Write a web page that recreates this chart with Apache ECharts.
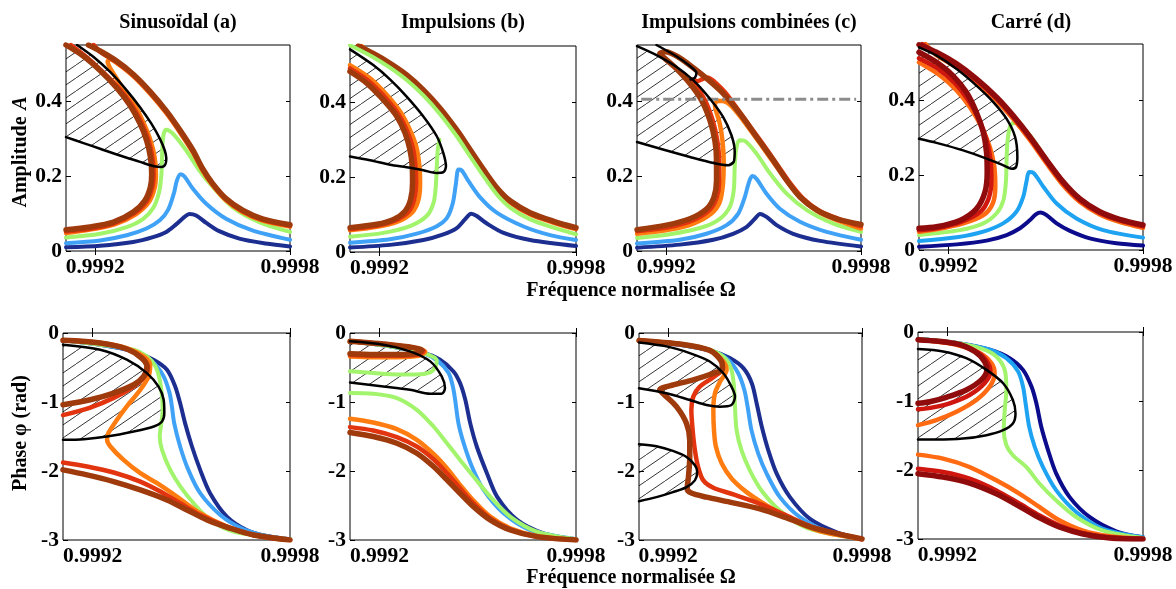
<!DOCTYPE html>
<html><head><meta charset="utf-8">
<script src="https://cdn.jsdelivr.net/npm/echarts@6/dist/echarts.min.js"></script>
<style>html,body{margin:0;padding:0;background:#fff}#c{width:1176px;height:589px}</style>
</head><body><div id="c"></div>
<script>
// ---------- axes / labels ----------
const xTicks=[0.9992,0.9998];
const ampTicks=[0,0.2,0.4];
const phaseTicks=[-3,-2,-1,0];
const xMin=0.99911, xMax=0.9998, ampMax=0.55, phaseMin=-3, phaseMax=0;
const titles=['Sinusoïdal (a)','Impulsions (b)','Impulsions combinées (c)','Carré (d)'];
const xName='Fréquence normalisée Ω';

// ---------- amplitude, panel (a) ----------
const ampA_navy=[[0.99911,0.01],[0.999215,0.014],[0.999317,0.024],[0.999378,0.037],[0.999419,0.051],[0.999449,0.071],[0.999475,0.091],[0.99949,0.099],[0.999511,0.095],[0.999542,0.075],[0.999582,0.053],[0.999644,0.033],[0.999725,0.02],[0.9998,0.012]];
const ampA_sky=[[0.99911,0.021],[0.999215,0.028],[0.999297,0.042],[0.999358,0.06],[0.999399,0.082],[0.999424,0.109],[0.999442,0.153],[0.999452,0.189],[0.999463,0.205],[0.999475,0.199],[0.999501,0.166],[0.999542,0.126],[0.999603,0.086],[0.999684,0.055],[0.9998,0.03]];
const ampA_lime=[[0.99911,0.036],[0.999215,0.046],[0.999297,0.064],[0.999348,0.086],[0.99938,0.117],[0.999397,0.158],[0.999404,0.206],[0.999407,0.278],[0.999411,0.313],[0.999419,0.324],[0.99944,0.313],[0.99948,0.269],[0.999521,0.215],[0.999562,0.171],[0.999623,0.117],[0.999705,0.077],[0.9998,0.051]];
const ampA_orange=[[0.99911,0.048],[0.999184,0.057],[0.99926,0.071],[0.999325,0.098],[0.999365,0.13],[0.999383,0.168],[0.999387,0.206],[0.999383,0.251],[0.99937,0.296],[0.99935,0.34],[0.999325,0.385],[0.999295,0.42],[0.999265,0.462],[0.999245,0.49],[0.999238,0.505],[0.999246,0.512],[0.999266,0.502],[0.999317,0.467],[0.999368,0.421],[0.999419,0.368],[0.99946,0.318],[0.999501,0.263],[0.999531,0.214],[0.999562,0.175],[0.999603,0.135],[0.999654,0.104],[0.999715,0.081],[0.9998,0.065]];
const ampA_redC=[[0.999125,0.55],[0.99917,0.52],[0.99922,0.481],[0.999272,0.436],[0.999313,0.389],[0.999344,0.34],[0.999364,0.296],[0.999376,0.251],[0.99938,0.206],[0.999376,0.17],[0.999359,0.133],[0.999321,0.101],[0.999258,0.074],[0.999184,0.059],[0.99911,0.052]];
const ampA_redUp=[[0.999195,0.55],[0.999215,0.532],[0.999266,0.504],[0.999317,0.469],[0.999368,0.424],[0.999419,0.371],[0.99946,0.321],[0.999501,0.266],[0.999531,0.217],[0.999562,0.177],[0.999603,0.137],[0.999654,0.106],[0.999715,0.083],[0.9998,0.067]];
const ampA_brownC=[[0.99911,0.55],[0.999164,0.52],[0.999215,0.482],[0.999266,0.436],[0.999307,0.389],[0.999338,0.34],[0.999358,0.296],[0.99937,0.251],[0.999374,0.206],[0.99937,0.171],[0.999353,0.135],[0.999317,0.104],[0.999256,0.077],[0.999184,0.064],[0.99911,0.057]];
const ampA_brownUp=[[0.999179,0.55],[0.999215,0.534],[0.999266,0.507],[0.999317,0.472],[0.999368,0.427],[0.999419,0.374],[0.99946,0.324],[0.999501,0.269],[0.999531,0.22],[0.999562,0.18],[0.999603,0.14],[0.999654,0.109],[0.999715,0.086],[0.9998,0.07]];
const ampA_black=[[0.999144,0.55],[0.999195,0.518],[0.999246,0.478],[0.999297,0.429],[0.999338,0.384],[0.999373,0.34],[0.999399,0.3],[0.999414,0.269],[0.999419,0.247],[0.999416,0.231],[0.999404,0.224],[0.999378,0.227],[0.999338,0.238],[0.999276,0.255],[0.999215,0.273],[0.999164,0.288],[0.99911,0.304]];

// ---------- amplitude, panel (b) ----------
const ampB_navy=[[0.99911,0.012],[0.999232,0.019],[0.999334,0.032],[0.999395,0.047],[0.999436,0.064],[0.999461,0.087],[0.99948,0.102],[0.999497,0.096],[0.999528,0.076],[0.999579,0.051],[0.99966,0.032],[0.9998,0.016]];
const ampB_sky=[[0.99911,0.025],[0.999232,0.034],[0.999314,0.049],[0.999375,0.069],[0.999406,0.091],[0.999424,0.131],[0.999433,0.18],[0.999441,0.22],[0.999451,0.218],[0.999472,0.189],[0.999508,0.145],[0.999558,0.105],[0.99964,0.068],[0.999721,0.045],[0.9998,0.032]];
const ampB_limeC=[[0.99911,0.041],[0.999212,0.051],[0.999293,0.069],[0.999344,0.096],[0.999365,0.131],[0.999372,0.176],[0.999375,0.229],[0.999378,0.273],[0.999383,0.3]];
const ampB_limeUp=[[0.99911,0.552],[0.999181,0.52],[0.999232,0.492],[0.999283,0.459],[0.999334,0.418],[0.999385,0.368],[0.999436,0.309],[0.999477,0.255],[0.999518,0.202],[0.999559,0.153],[0.9996,0.118],[0.99966,0.087],[0.999732,0.065],[0.9998,0.047]];
const ampB_orangeC=[[0.99911,0.499],[0.999171,0.464],[0.999222,0.42],[0.999263,0.375],[0.999293,0.326],[0.999312,0.282],[0.999322,0.229],[0.999324,0.185],[0.999319,0.14],[0.999299,0.105],[0.999253,0.08],[0.999192,0.067],[0.99911,0.058]];
const ampB_redC=[[0.99911,0.49],[0.999166,0.457],[0.999217,0.413],[0.999258,0.368],[0.999285,0.322],[0.999302,0.278],[0.99931,0.229],[0.999312,0.185],[0.999306,0.14],[0.999288,0.107],[0.999248,0.084],[0.999192,0.07],[0.99911,0.061]];
const ampB_brownC=[[0.99911,0.482],[0.999161,0.451],[0.999212,0.406],[0.999253,0.362],[0.999278,0.318],[0.999293,0.273],[0.9993,0.229],[0.999301,0.185],[0.999295,0.14],[0.999278,0.109],[0.999243,0.087],[0.999192,0.074],[0.99911,0.065]];
const ampB_orangeUp=[[0.999145,0.55],[0.999181,0.527],[0.999232,0.5],[0.999283,0.468],[0.999334,0.428],[0.999385,0.379],[0.999436,0.321],[0.999477,0.268],[0.999518,0.215],[0.999559,0.166],[0.9996,0.131],[0.99966,0.1],[0.999732,0.078],[0.9998,0.061]];
const ampB_redUp=[[0.99914,0.55],[0.999181,0.528],[0.999232,0.502],[0.999283,0.47],[0.999334,0.43],[0.999385,0.381],[0.999436,0.323],[0.999477,0.27],[0.999518,0.217],[0.999559,0.168],[0.9996,0.133],[0.99966,0.102],[0.999732,0.08],[0.9998,0.063]];
const ampB_brownUp=[[0.999135,0.55],[0.999181,0.53],[0.999232,0.504],[0.999283,0.473],[0.999334,0.433],[0.999385,0.384],[0.999436,0.326],[0.999477,0.273],[0.999518,0.22],[0.999559,0.171],[0.9996,0.136],[0.99966,0.105],[0.999732,0.082],[0.9998,0.065]];
const ampB_black=[[0.99911,0.541],[0.999181,0.499],[0.999232,0.461],[0.999283,0.415],[0.999334,0.362],[0.999375,0.309],[0.999395,0.264],[0.999403,0.229],[0.999395,0.213],[0.999375,0.211],[0.999334,0.218],[0.999283,0.226],[0.999232,0.233],[0.999171,0.245],[0.99911,0.255]];

// ---------- amplitude, panel (c) ----------
const ampC_navy=[[0.99911,0.009],[0.999242,0.017],[0.999345,0.03],[0.999406,0.046],[0.999447,0.064],[0.999473,0.086],[0.999489,0.099],[0.999509,0.091],[0.99954,0.069],[0.999591,0.046],[0.999674,0.027],[0.9998,0.012]];
const ampC_sky=[[0.99911,0.02],[0.999242,0.03],[0.999324,0.046],[0.999386,0.069],[0.999422,0.1],[0.999442,0.144],[0.999455,0.184],[0.999465,0.2],[0.999478,0.193],[0.999509,0.153],[0.99955,0.113],[0.999612,0.078],[0.999694,0.051],[0.9998,0.03]];
const ampC_lime=[[0.99911,0.035],[0.999221,0.046],[0.999314,0.064],[0.999365,0.086],[0.999396,0.118],[0.999408,0.162],[0.999411,0.225],[0.999415,0.269],[0.999425,0.296],[0.999442,0.294],[0.999478,0.26],[0.99952,0.207],[0.999571,0.153],[0.999633,0.109],[0.999715,0.073],[0.9998,0.051]];
const ampC_orange=[[0.99911,0.046],[0.999211,0.057],[0.999283,0.073],[0.999339,0.1],[0.999365,0.131],[0.999375,0.18],[0.999377,0.242],[0.999373,0.296],[0.999365,0.34],[0.999353,0.376],[0.99935,0.392],[0.99936,0.401],[0.999377,0.4],[0.999401,0.387],[0.999437,0.349],[0.999489,0.287],[0.99954,0.225],[0.999581,0.176],[0.999622,0.135],[0.999674,0.102],[0.999736,0.079],[0.9998,0.06]];
const ampC_red=[[0.99911,0.053],[0.999211,0.064],[0.999283,0.082],[0.999334,0.11],[0.999355,0.14],[0.999363,0.184],[0.999363,0.242],[0.999357,0.296],[0.999343,0.349],[0.999319,0.403],[0.999288,0.443],[0.999267,0.454],[0.999283,0.458],[0.999295,0.453],[0.999309,0.458],[0.999322,0.463],[0.999336,0.46],[0.999355,0.447],[0.999386,0.419],[0.999437,0.358],[0.999489,0.296],[0.99954,0.233],[0.999581,0.182],[0.999622,0.14],[0.999674,0.106],[0.999736,0.084],[0.9998,0.066]];
const ampC_brown=[[0.99911,0.057],[0.999201,0.069],[0.999273,0.086],[0.999325,0.113],[0.999347,0.144],[0.999355,0.189],[0.999355,0.241],[0.99935,0.294],[0.999335,0.348],[0.999309,0.402],[0.999273,0.447],[0.999231,0.487],[0.999195,0.515],[0.99918,0.527],[0.999198,0.532],[0.999237,0.518],[0.999273,0.496],[0.999324,0.461],[0.999375,0.421],[0.999427,0.367],[0.999478,0.305],[0.99953,0.242],[0.999571,0.189],[0.999612,0.144],[0.999664,0.109],[0.999725,0.086],[0.9998,0.071]];
const ampC_black=[[0.99911,0.547],[0.99917,0.523],[0.999231,0.492],[0.999283,0.456],[0.999334,0.407],[0.999375,0.358],[0.999401,0.309],[0.999411,0.265],[0.999408,0.238],[0.999391,0.229],[0.999345,0.235],[0.999273,0.251],[0.99919,0.271],[0.99911,0.291]];
const ampC_tongue=[[0.99917,0.55],[0.999231,0.52],[0.999273,0.494],[0.999293,0.475],[0.999288,0.462],[0.999275,0.458]];
const ampC_threshold=[[0.999123,0.405],[0.999785,0.405]];

// ---------- amplitude, panel (d) ----------
const ampD_navy=[[0.99911,0.009],[0.999226,0.015],[0.999318,0.025],[0.99938,0.04],[0.999421,0.058],[0.999452,0.08],[0.99947,0.095],[0.999484,0.1],[0.999503,0.093],[0.999534,0.071],[0.999575,0.051],[0.999636,0.031],[0.999718,0.018],[0.9998,0.012]];
const ampD_sky=[[0.99911,0.024],[0.999226,0.034],[0.999308,0.049],[0.999369,0.071],[0.99941,0.102],[0.999431,0.142],[0.999441,0.182],[0.999449,0.208],[0.999462,0.206],[0.999493,0.169],[0.999534,0.124],[0.999595,0.084],[0.999677,0.053],[0.9998,0.033]];
const ampD_lime=[[0.99911,0.04],[0.999236,0.053],[0.999308,0.071],[0.999349,0.098],[0.99937,0.133],[0.999378,0.186],[0.99938,0.248],[0.999383,0.293],[0.99939,0.328],[0.999402,0.34],[0.999421,0.335],[0.999462,0.294],[0.999503,0.241],[0.999554,0.179],[0.999616,0.124],[0.999698,0.084],[0.9998,0.059]];
const ampD_orangeC=[[0.99911,0.501],[0.999175,0.466],[0.999226,0.426],[0.999267,0.381],[0.999303,0.328],[0.999328,0.275],[0.999342,0.222],[0.999345,0.169],[0.999337,0.124],[0.999308,0.093],[0.999246,0.071],[0.999164,0.055],[0.99911,0.049]];
const ampD_redC=[[0.99911,0.512],[0.999168,0.484],[0.99922,0.446],[0.999261,0.401],[0.999295,0.348],[0.999318,0.295],[0.99933,0.242],[0.999333,0.188],[0.999325,0.139],[0.999298,0.101],[0.99924,0.075],[0.999164,0.058],[0.99911,0.053]];
const ampD_maroonC=[[0.99911,0.528],[0.999164,0.501],[0.999215,0.465],[0.999256,0.421],[0.999287,0.367],[0.999308,0.314],[0.999318,0.261],[0.99932,0.207],[0.999313,0.154],[0.999287,0.11],[0.999236,0.079],[0.999164,0.062],[0.99911,0.058]];
const ampD_orangeUp=[[0.99913,0.55],[0.999164,0.52],[0.999226,0.488],[0.999287,0.448],[0.999349,0.399],[0.9994,0.35],[0.999452,0.293],[0.999503,0.231],[0.999554,0.173],[0.999605,0.129],[0.999667,0.095],[0.999728,0.075],[0.9998,0.059]];
const ampD_redUp=[[0.99912,0.55],[0.999164,0.524],[0.999226,0.493],[0.999287,0.453],[0.999349,0.404],[0.9994,0.355],[0.999452,0.298],[0.999503,0.236],[0.999554,0.178],[0.999605,0.133],[0.999667,0.099],[0.999728,0.079],[0.9998,0.063]];
const ampD_maroonUp=[[0.99911,0.548],[0.999164,0.528],[0.999226,0.497],[0.999287,0.457],[0.999349,0.408],[0.9994,0.359],[0.999452,0.302],[0.999503,0.24],[0.999554,0.182],[0.999605,0.137],[0.999667,0.102],[0.999728,0.082],[0.9998,0.067]];
const ampD_black=[[0.99911,0.541],[0.999164,0.519],[0.999226,0.483],[0.999287,0.439],[0.999339,0.395],[0.99938,0.35],[0.999406,0.302],[0.999413,0.248],[0.999409,0.222],[0.999396,0.217],[0.99937,0.226],[0.999318,0.244],[0.999246,0.266],[0.999164,0.286],[0.99911,0.297]];

// ---------- phase, panel (a) ----------
const phA_navy=[[0.99911,-0.106],[0.999223,-0.169],[0.999325,-0.266],[0.999385,-0.387],[0.999426,-0.532],[0.999451,-0.774],[0.999466,-1.016],[0.999481,-1.306],[0.999502,-1.645],[0.999527,-1.984],[0.999557,-2.322],[0.999608,-2.661],[0.999668,-2.855],[0.999729,-2.942],[0.9998,-2.99]];
const phA_sky=[[0.99911,-0.106],[0.999223,-0.169],[0.999325,-0.266],[0.99938,-0.411],[0.999416,-0.629],[0.999434,-0.871],[0.999441,-1.064],[0.999448,-1.306],[0.999466,-1.645],[0.999491,-1.984],[0.999527,-2.322],[0.999588,-2.637],[0.999659,-2.845],[0.999729,-2.942],[0.9998,-2.99]];
const phA_lime=[[0.99911,-0.106],[0.999223,-0.169],[0.999325,-0.242],[0.999365,-0.339],[0.999391,-0.484],[0.999404,-0.677],[0.999411,-0.919],[0.999413,-1.113],[0.999406,-1.403],[0.999404,-1.5],[0.999411,-1.693],[0.999436,-1.984],[0.999467,-2.226],[0.999507,-2.468],[0.999557,-2.709],[0.999628,-2.879],[0.999729,-2.951],[0.9998,-2.99]];
const phA_orange=[[0.99911,-0.106],[0.999223,-0.145],[0.999304,-0.218],[0.999355,-0.339],[0.999375,-0.46],[0.99937,-0.629],[0.999345,-0.823],[0.999304,-1.064],[0.999274,-1.258],[0.999248,-1.451],[0.999244,-1.548],[0.999254,-1.645],[0.999294,-1.839],[0.999345,-2.032],[0.999396,-2.177],[0.999456,-2.371],[0.999527,-2.613],[0.999608,-2.806],[0.999689,-2.927],[0.9998,-3]];
const phA_redC=[[0.99911,-0.106],[0.999223,-0.145],[0.999304,-0.232],[0.999352,-0.363],[0.999369,-0.5],[0.999355,-0.65],[0.99932,-0.79],[0.999264,-0.94],[0.999193,-1.08],[0.99911,-1.19]];
const phA_redUp=[[0.99911,-1.877],[0.999183,-1.935],[0.999264,-2.022],[0.999345,-2.153],[0.999406,-2.298],[0.999466,-2.468],[0.999527,-2.637],[0.999608,-2.806],[0.999689,-2.927],[0.9998,-3]];
const phA_brownC=[[0.99911,-0.106],[0.999223,-0.145],[0.999304,-0.232],[0.999349,-0.363],[0.999365,-0.484],[0.999355,-0.629],[0.999325,-0.75],[0.999264,-0.871],[0.999193,-0.968],[0.99911,-1.04]];
const phA_brownUp=[[0.99911,-1.984],[0.999183,-2.056],[0.999264,-2.153],[0.999345,-2.274],[0.999426,-2.419],[0.999487,-2.564],[0.999548,-2.709],[0.999618,-2.83],[0.999689,-2.927],[0.9998,-3]];
const phA_black=[[0.99911,-0.169],[0.999223,-0.242],[0.999304,-0.387],[0.999365,-0.581],[0.9994,-0.774],[0.999416,-0.968],[0.999418,-1.161],[0.999411,-1.282],[0.999386,-1.355],[0.999325,-1.427],[0.999244,-1.5],[0.999173,-1.539],[0.99911,-1.548]];

// ---------- phase, panel (b) ----------
const phB_navy=[[0.99911,-0.121],[0.999232,-0.194],[0.999334,-0.29],[0.999385,-0.387],[0.999426,-0.557],[0.999446,-0.726],[0.999462,-0.968],[0.999477,-1.306],[0.999497,-1.645],[0.999528,-2.032],[0.999559,-2.371],[0.99962,-2.709],[0.999701,-2.903],[0.9998,-2.99]];
const phB_sky=[[0.99911,-0.121],[0.999232,-0.194],[0.999334,-0.29],[0.99938,-0.411],[0.999411,-0.581],[0.999424,-0.774],[0.999431,-0.968],[0.999441,-1.306],[0.999457,-1.597],[0.999482,-1.935],[0.999518,-2.274],[0.999579,-2.613],[0.99966,-2.855],[0.9998,-2.99]];
const phB_limeUp=[[0.99911,-0.871],[0.999181,-0.881],[0.999253,-0.943],[0.999314,-1.113],[0.999365,-1.355],[0.999406,-1.597],[0.999446,-1.839],[0.999487,-2.08],[0.999538,-2.371],[0.999599,-2.661],[0.999681,-2.879],[0.9998,-2.99]];
const phB_limeC=[[0.99911,-0.121],[0.999232,-0.194],[0.999334,-0.29],[0.999375,-0.4],[0.99937,-0.5],[0.999355,-0.57],[0.999314,-0.6],[0.999253,-0.6],[0.999181,-0.58],[0.99911,-0.556]];
const phB_orangeC=[[0.99911,-0.121],[0.999232,-0.17],[0.99931,-0.22],[0.99934,-0.27],[0.99932,-0.33],[0.999253,-0.35],[0.999181,-0.35],[0.99911,-0.34]];
const phB_redC=[[0.99911,-0.121],[0.999232,-0.17],[0.999305,-0.215],[0.999335,-0.26],[0.999315,-0.315],[0.999253,-0.33],[0.999181,-0.33],[0.99911,-0.32]];
const phB_brownC=[[0.99911,-0.121],[0.999232,-0.17],[0.9993,-0.21],[0.99933,-0.25],[0.99931,-0.3],[0.999253,-0.31],[0.999181,-0.31],[0.99911,-0.3]];
const phB_orangeUp=[[0.99911,-1.243],[0.999181,-1.297],[0.999253,-1.393],[0.999314,-1.548],[0.999365,-1.752],[0.999406,-1.96],[0.999446,-2.201],[0.999487,-2.429],[0.999538,-2.661],[0.999599,-2.83],[0.999681,-2.942],[0.9998,-3]];
const phB_redUp=[[0.99911,-1.364],[0.999181,-1.413],[0.999253,-1.509],[0.999314,-1.645],[0.999365,-1.829],[0.999406,-2.032],[0.999446,-2.25],[0.999487,-2.468],[0.999538,-2.685],[0.999599,-2.845],[0.999681,-2.951],[0.9998,-3]];
const phB_brownUp=[[0.99911,-1.442],[0.999181,-1.5],[0.999253,-1.597],[0.999314,-1.742],[0.999365,-1.935],[0.999406,-2.129],[0.999446,-2.322],[0.999487,-2.516],[0.999538,-2.709],[0.999599,-2.855],[0.999681,-2.951],[0.9998,-3]];
const phB_black=[[0.99911,-0.121],[0.999212,-0.169],[0.999293,-0.266],[0.999355,-0.411],[0.99939,-0.629],[0.9994,-0.798],[0.99939,-0.88],[0.999355,-0.88],[0.999293,-0.823],[0.999212,-0.774],[0.99911,-0.716]];

// ---------- phase, panel (c) ----------
const phC_navy=[[0.99911,-0.107],[0.999236,-0.17],[0.99934,-0.267],[0.999391,-0.364],[0.999433,-0.51],[0.999459,-0.728],[0.999474,-1.019],[0.99949,-1.359],[0.99951,-1.699],[0.999536,-2.039],[0.999577,-2.379],[0.999639,-2.694],[0.999722,-2.888],[0.9998,-2.985]];
const phC_sky=[[0.99911,-0.107],[0.999236,-0.17],[0.99934,-0.267],[0.999386,-0.388],[0.999417,-0.583],[0.999436,-0.825],[0.999446,-1.068],[0.999458,-1.408],[0.999479,-1.748],[0.999505,-2.039],[0.999546,-2.379],[0.999608,-2.67],[0.999691,-2.874],[0.9998,-2.985]];
const phC_lime=[[0.99911,-0.107],[0.999236,-0.16],[0.999329,-0.243],[0.999376,-0.364],[0.999396,-0.534],[0.999404,-0.777],[0.999407,-1.068],[0.999412,-1.408],[0.999427,-1.699],[0.999453,-1.99],[0.999489,-2.282],[0.999546,-2.573],[0.999629,-2.825],[0.9998,-2.985]];
const phC_orange=[[0.99911,-0.107],[0.999236,-0.16],[0.999329,-0.252],[0.999371,-0.413],[0.999381,-0.534],[0.999361,-0.704],[0.999345,-0.874],[0.99934,-1.117],[0.999342,-1.408],[0.999348,-1.65],[0.999366,-1.893],[0.999397,-2.112],[0.999443,-2.306],[0.999505,-2.5],[0.999588,-2.718],[0.999671,-2.874],[0.9998,-2.985]];
const phC_red=[[0.99911,-0.107],[0.999236,-0.16],[0.999329,-0.252],[0.999365,-0.388],[0.99937,-0.51],[0.99934,-0.641],[0.999298,-0.777],[0.999278,-0.922],[0.999272,-1.117],[0.999276,-1.408],[0.999283,-1.699],[0.999293,-1.942],[0.999309,-2.136],[0.99934,-2.243],[0.999402,-2.34],[0.999484,-2.476],[0.999567,-2.646],[0.99965,-2.816],[0.9998,-2.985]];
const phC_brown=[[0.99911,-0.107],[0.999236,-0.16],[0.999329,-0.252],[0.999365,-0.413],[0.999368,-0.524],[0.99934,-0.583],[0.999278,-0.68],[0.999216,-0.752],[0.999174,-0.825],[0.999189,-0.898],[0.999226,-1.068],[0.999257,-1.311],[0.999267,-1.553],[0.999267,-1.796],[0.999263,-2.087],[0.999259,-2.257],[0.999272,-2.32],[0.999319,-2.379],[0.999391,-2.451],[0.999484,-2.549],[0.999567,-2.68],[0.99965,-2.825],[0.9998,-2.985]];
const phC_black1=[[0.99911,-0.136],[0.999195,-0.194],[0.999267,-0.291],[0.999329,-0.413],[0.999371,-0.583],[0.999396,-0.777],[0.999407,-0.922],[0.999396,-1.044],[0.99936,-1.068],[0.999319,-1.044],[0.999267,-0.971],[0.999195,-0.874],[0.99911,-0.801]];
const phC_black2=[[0.99911,-1.612],[0.999164,-1.641],[0.999215,-1.709],[0.999257,-1.796],[0.999283,-1.917],[0.99929,-2.015],[0.999283,-2.136],[0.999257,-2.233],[0.999215,-2.306],[0.999164,-2.379],[0.99911,-2.437]];

// ---------- phase, panel (d) ----------
const phD_navy=[[0.99911,-0.102],[0.999228,-0.16],[0.99933,-0.257],[0.999391,-0.379],[0.999432,-0.549],[0.999458,-0.791],[0.999473,-1.034],[0.999488,-1.374],[0.999509,-1.714],[0.999534,-2.053],[0.999575,-2.393],[0.999637,-2.684],[0.999718,-2.888],[0.9998,-2.976]];
const phD_sky=[[0.99911,-0.102],[0.999228,-0.16],[0.99933,-0.257],[0.999381,-0.379],[0.999417,-0.573],[0.999432,-0.791],[0.99944,-1.034],[0.999451,-1.374],[0.999468,-1.665],[0.999493,-1.956],[0.999534,-2.296],[0.999596,-2.612],[0.999678,-2.854],[0.9998,-2.976]];
const phD_lime=[[0.99911,-0.102],[0.999228,-0.16],[0.999309,-0.248],[0.99935,-0.354],[0.999376,-0.549],[0.999381,-0.84],[0.999376,-1.131],[0.999373,-1.422],[0.999381,-1.641],[0.999401,-1.786],[0.999442,-1.956],[0.999483,-2.199],[0.999534,-2.442],[0.999596,-2.684],[0.999678,-2.879],[0.9998,-2.985]];
const phD_orangeC=[[0.99911,-0.112],[0.999228,-0.184],[0.999299,-0.306],[0.999335,-0.451],[0.999345,-0.597],[0.99933,-0.791],[0.999289,-0.985],[0.999228,-1.155],[0.999166,-1.277],[0.99911,-1.35]];
const phD_orangeUp=[[0.99911,-1.777],[0.999187,-1.835],[0.999268,-1.956],[0.99935,-2.15],[0.999422,-2.345],[0.999483,-2.539],[0.999545,-2.733],[0.999616,-2.879],[0.999698,-2.961],[0.9998,-3]];
const phD_redC=[[0.99911,-0.112],[0.999228,-0.175],[0.999289,-0.282],[0.999322,-0.427],[0.999332,-0.573],[0.999314,-0.743],[0.999268,-0.913],[0.999207,-1.034],[0.999156,-1.092],[0.99911,-1.121]];
const phD_redUp=[[0.99911,-1.981],[0.999187,-2.029],[0.999268,-2.126],[0.99935,-2.296],[0.999422,-2.49],[0.999483,-2.66],[0.999545,-2.806],[0.999616,-2.917],[0.999698,-2.976],[0.9998,-3]];
const phD_maroonC=[[0.99911,-0.112],[0.999228,-0.17],[0.999284,-0.282],[0.999314,-0.427],[0.999321,-0.549],[0.999304,-0.694],[0.999258,-0.84],[0.999197,-0.947],[0.999146,-1.01],[0.99911,-1.034]];
const phD_maroonUp=[[0.99911,-2.053],[0.999187,-2.102],[0.999268,-2.189],[0.99935,-2.345],[0.999422,-2.529],[0.999483,-2.694],[0.999545,-2.83],[0.999616,-2.927],[0.999698,-2.985],[0.9998,-3]];
const phD_black=[[0.99911,-0.248],[0.999187,-0.282],[0.999258,-0.379],[0.99932,-0.549],[0.999371,-0.743],[0.999401,-0.985],[0.999409,-1.18],[0.999401,-1.325],[0.999371,-1.422],[0.99932,-1.495],[0.999248,-1.544],[0.999166,-1.558],[0.99911,-1.558]];

// ---------- styling ----------
const COL={navy:'#1c2e8f',sky:'#3fa2f6',lime:'#a2f46c',orange:'#ff7d10',red:'#e2350f',brown:'#9e3a0c',
  dnavy:'#0b0b8c',dsky:'#1ea2f2',dorange:'#ff6a12',dred:'#cf170f',maroon:'#900c0c'};
const W={navy:4,sky:4,lime:4,orange:4.5,red:4.5,brown:5.5,dnavy:4,dsky:4,dorange:4.5,dred:4.5,maroon:5.5};
const gridBoxes=[
 {left:66,top:45,width:224,height:206},{left:350,top:46,width:226,height:206},
 {left:637,top:45,width:224,height:206},{left:919,top:44,width:224,height:206},
 {left:63,top:333,width:227,height:207},{left:350,top:333,width:226,height:207},
 {left:639,top:333,width:223,height:207},{left:918,top:332,width:225,height:207}];
const FONT='"Liberation Serif","Times New Roman",serif';

const panels=[
 {curves:[[ampA_navy,'navy'],[ampA_sky,'sky'],[ampA_lime,'lime'],[ampA_orange,'orange'],[ampA_redC,'red'],[ampA_redUp,'red'],[ampA_brownC,'brown'],[ampA_brownUp,'brown']],black:[ampA_black],hatch:[ampA_black.concat([[xMin,ampMax]])]},
 {curves:[[ampB_navy,'navy'],[ampB_sky,'sky'],[ampB_limeC,'lime'],[ampB_orangeC,'orange'],[ampB_redC,'red'],[ampB_brownC,'brown'],[ampB_orangeUp,'orange'],[ampB_redUp,'red'],[ampB_brownUp,'brown'],[ampB_limeUp,'lime']],black:[ampB_black],hatch:[ampB_black]},
 {curves:[[ampC_navy,'navy'],[ampC_sky,'sky'],[ampC_lime,'lime'],[ampC_orange,'orange'],[ampC_red,'red'],[ampC_brown,'brown']],black:[ampC_black,ampC_tongue],hatch:[ampC_black],dash:ampC_threshold},
 {curves:[[ampD_navy,'dnavy'],[ampD_sky,'dsky'],[ampD_lime,'lime'],[ampD_orangeC,'dorange'],[ampD_redC,'dred'],[ampD_maroonC,'maroon'],[ampD_orangeUp,'dorange'],[ampD_redUp,'dred'],[ampD_maroonUp,'maroon']],black:[ampD_black],hatch:[ampD_black]},
 {curves:[[phA_navy,'navy'],[phA_sky,'sky'],[phA_lime,'lime'],[phA_orange,'orange'],[phA_redC,'red'],[phA_redUp,'red'],[phA_brownC,'brown'],[phA_brownUp,'brown']],black:[phA_black],hatch:[phA_black]},
 {curves:[[phB_navy,'navy'],[phB_sky,'sky'],[phB_limeC,'lime'],[phB_limeUp,'lime'],[phB_orangeC,'orange'],[phB_redC,'red'],[phB_brownC,'brown'],[phB_orangeUp,'orange'],[phB_redUp,'red'],[phB_brownUp,'brown']],black:[phB_black],hatch:[phB_black]},
 {curves:[[phC_navy,'navy'],[phC_sky,'sky'],[phC_lime,'lime'],[phC_orange,'orange'],[phC_red,'red'],[phC_brown,'brown']],black:[phC_black1,phC_black2],hatch:[phC_black1,phC_black2]},
 {curves:[[phD_navy,'dnavy'],[phD_sky,'dsky'],[phD_lime,'lime'],[phD_orangeC,'dorange'],[phD_orangeUp,'dorange'],[phD_redC,'dred'],[phD_redUp,'dred'],[phD_maroonC,'maroon'],[phD_maroonUp,'maroon']],black:[phD_black],hatch:[phD_black]}
];

function hatchTile(){
  const w=19,h=13,c=document.createElement('canvas');c.width=w;c.height=h;
  const g=c.getContext('2d');g.strokeStyle='#000';g.lineWidth=0.8;
  for(const dx of [-w,0,w]){g.beginPath();g.moveTo(dx,h);g.lineTo(dx+w,0);g.stroke();}
  return c;
}
const tile=hatchTile();

const grid=[],xAxis=[],yAxis=[],series=[];
const labelStyle={color:'#000',fontFamily:FONT,fontWeight:'bold'};
gridBoxes.forEach(b=>{
  grid.push(Object.assign({show:true,borderColor:'#000',borderWidth:1,backgroundColor:'#fff'},b));
});
for(let i=0;i<8;i++){
  xAxis.push({type:'value',gridIndex:i,min:xMin,max:xMax,splitLine:{show:false},axisLine:{show:false},
    axisTick:{inside:true,length:5,lineStyle:{color:'#000'},customValues:xTicks},
    axisLabel:Object.assign({margin:5,fontSize:21.5,customValues:xTicks,formatter:v=>v.toFixed(4)},labelStyle)});
}
for(let i=0;i<8;i++){
  xAxis.push({type:'value',gridIndex:i,position:'top',min:xMin,max:xMax,splitLine:{show:false},axisLine:{show:false},
    axisTick:{inside:true,length:4,lineStyle:{color:'#000'},customValues:xTicks},axisLabel:{show:false}});
}
for(let i=0;i<8;i++){
  const amp=i<4;
  yAxis.push({type:'value',gridIndex:i,min:amp?0:phaseMin,max:amp?ampMax:phaseMax,splitLine:{show:false},axisLine:{show:false},
    axisTick:{inside:true,length:5,lineStyle:{color:'#000'},customValues:amp?ampTicks:phaseTicks},
    axisLabel:Object.assign({margin:4,fontSize:21.5,customValues:amp?ampTicks:phaseTicks,formatter:v=>String(Math.round(v*10)/10)},labelStyle)});
}
for(let i=0;i<8;i++){
  const amp=i<4;
  yAxis.push({type:'value',gridIndex:i,position:'right',min:amp?0:phaseMin,max:amp?ampMax:phaseMax,splitLine:{show:false},axisLine:{show:false},
    axisTick:{inside:true,length:4,lineStyle:{color:'#000'},customValues:amp?ampTicks:phaseTicks},axisLabel:{show:false}});
}

panels.forEach((p,i)=>{
  p.hatch.forEach(poly=>{
    series.push({type:'custom',xAxisIndex:i,yAxisIndex:i,clip:true,silent:true,z:1,
      data:[poly[0]],
      renderItem:(params,api)=>({type:'polygon',shape:{points:poly.map(q=>api.coord(q))},
        style:{fill:{image:tile,repeat:'repeat'},stroke:null}})});
  });
  p.curves.forEach(([d,c])=>{
    series.push({type:'line',xAxisIndex:i,yAxisIndex:i,data:d,showSymbol:false,smooth:0.3,clip:true,silent:true,z:2,
      lineStyle:{color:COL[c],width:W[c],cap:'round',join:'round'}});
  });
  if(p.dash){
    series.push({type:'line',xAxisIndex:i,yAxisIndex:i,data:p.dash,showSymbol:false,silent:true,z:3,
      lineStyle:{color:'#8c8c8c',width:3,type:[11,4,3,4]}});
  }
  p.black.forEach(d=>{
    series.push({type:'line',xAxisIndex:i,yAxisIndex:i,data:d,showSymbol:false,smooth:0.3,clip:true,silent:true,z:4,
      lineStyle:{color:'#000',width:2.5,cap:'round',join:'round'}});
  });
});

const titleCenters=[178,463,749,1031];
const graphic=[];
titles.forEach((t,i)=>graphic.push({type:'text',x:titleCenters[i],y:23,silent:true,
  style:{text:t,font:'bold 20px '+FONT,fill:'#000',align:'center',verticalAlign:'middle'}}));
[291,578].forEach(y=>graphic.push({type:'text',x:631,y:y,silent:true,
  style:{text:xName,font:'bold 20px '+FONT,fill:'#000',align:'center',verticalAlign:'middle'}}));
graphic.push({type:'text',x:21,y:152,rotation:Math.PI/2,silent:true,
  style:{text:'{b|Amplitude}  {i|A}',align:'center',verticalAlign:'middle',
    rich:{b:{font:'bold 20px '+FONT,fill:'#000'},i:{font:'italic bold 20px '+FONT,fill:'#000'}}}});
graphic.push({type:'text',x:21,y:433,rotation:Math.PI/2,silent:true,
  style:{text:'Phase φ (rad)',font:'bold 20px '+FONT,fill:'#000',align:'center',verticalAlign:'middle'}});

const chart=echarts.init(document.getElementById('c'),null,{renderer:'canvas'});
chart.setOption({animation:false,backgroundColor:'#fff',grid,xAxis,yAxis,series,graphic});
</script></body></html>
